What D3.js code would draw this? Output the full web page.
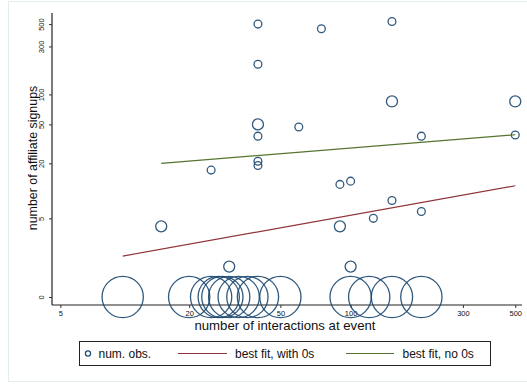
<!DOCTYPE html>
<html>
<head>
<meta charset="utf-8">
<script src="https://cdn.jsdelivr.net/npm/d3@7"></script>
<style>
  body { margin: 0; background: #fff; }
  svg text { font-family: "Liberation Sans", Arial, sans-serif; fill: #111; }
</style>
</head>
<body>
<div id="vis"></div>
<script>
// observations: interactions, signups, number of obs at that point
var obsX = [40, 75, 150, 40, 150, 500, 40, 60, 40, 200, 500, 40, 40, 25, 90, 100, 150, 125, 200, 15, 90, 30, 100,
            10, 20, 25, 27, 28, 30, 33, 36, 40, 50, 100, 120, 150, 200];
var obsY = [500, 450, 530, 200, 85, 85, 50, 47, 38, 38, 39, 21, 19, 17, 12, 13, 8, 5, 6, 4, 4, 1, 1,
            0, 0, 0, 0, 0, 0, 0, 0, 0, 0, 0, 0, 0, 0];
var obsN = [1, 1, 1, 1, 2, 2, 2, 1, 1, 1, 1, 1, 1, 1, 1, 1, 1, 1, 1, 2, 2, 2, 2,
            28, 28, 28, 28, 28, 28, 28, 28, 28, 28, 28, 28, 28, 28];

// fitted lines (end points)
var fitZerosX = [10, 500];
var fitZerosY = [1.54, 11.6];
var fitNoZerosX = [15, 500];
var fitNoZerosY = [20.0, 39.3];

var xTicks = [5, 20, 50, 100, 300, 500];
var yTicks = [0, 5, 20, 50, 100, 300, 500];

var legendLabels = ["num. obs.", "best fit, with 0s", "best fit, no 0s"];

var width = 527, height = 385;
var navy = "#1a476f", maroon = "#90353b", green = "#55752f";

var svg = d3.select("#vis").append("svg")
    .attr("width", width)
    .attr("height", height);

// graph region outline
svg.append("rect")
    .attr("x", 8.5).attr("y", 1.5)
    .attr("width", 530).attr("height", 380)
    .attr("fill", "#fff")
    .attr("stroke", "#e3ecee")
    .attr("stroke-width", 1);

var x = d3.scaleSymlog().constant(1).domain([4.53, 534]).range([52, 522]);
var y = d3.scaleSymlog().constant(1).domain([-0.2, 644]).range([305, 13]);
var r = d3.scaleSqrt().domain([0, 1]).range([0, 3.9]);

// axes
var gx = svg.append("g").attr("transform", "translate(0,305)")
    .call(d3.axisBottom(x).tickValues(xTicks).tickSize(3).tickPadding(2).tickFormat(d3.format("d")));
var gy = svg.append("g").attr("transform", "translate(52,0)")
    .call(d3.axisLeft(y).tickValues(yTicks).tickSize(3).tickPadding(2).tickFormat(d3.format("d")));

[gx, gy].forEach(function (g) {
  g.select(".domain").attr("stroke", "#222").attr("stroke-width", 1.2);
  g.selectAll(".tick line").attr("stroke", "#333");
  g.selectAll(".tick text").attr("font-size", 7.5).attr("fill", "#222")
      .attr("font-family", "Liberation Sans, Arial, sans-serif");
});
gx.select(".domain").attr("d", "M52,0H522");
gy.select(".domain").attr("d", "M0,13V305");

gx.selectAll(".tick text").attr("y", 6);
gy.selectAll(".tick text")
    .attr("x", null).attr("dy", null)
    .attr("text-anchor", "middle")
    .attr("transform", "translate(-8,0) rotate(-90)");

// axis titles
svg.append("text")
    .attr("x", 285).attr("y", 329.5)
    .attr("text-anchor", "middle")
    .attr("font-size", 13.2)
    .text("number of interactions at event");

svg.append("text")
    .attr("transform", "translate(37,158) rotate(-90)")
    .attr("text-anchor", "middle")
    .attr("font-size", 12.4)
    .text("number of affiliate signups");

// markers
var obs = obsX.map(function (d, i) { return { x: d, y: obsY[i], n: obsN[i] }; });

svg.append("g").selectAll("circle")
    .data(obs)
    .enter().append("circle")
    .attr("cx", function (d) { return x(d.x); })
    .attr("cy", function (d) { return y(d.y); })
    .attr("r", function (d) { return r(d.n); })
    .attr("fill", "none")
    .attr("stroke", navy)
    .attr("stroke-opacity", 0.9)
    .attr("stroke-width", 1.3);

// fit lines
var line = d3.line()
    .x(function (d) { return x(d[0]); })
    .y(function (d) { return y(d[1]); });

svg.append("path")
    .attr("d", line(d3.zip(fitZerosX, fitZerosY)))
    .attr("fill", "none").attr("stroke", maroon).attr("stroke-width", 1.2);

svg.append("path")
    .attr("d", line(d3.zip(fitNoZerosX, fitNoZerosY)))
    .attr("fill", "none").attr("stroke", green).attr("stroke-width", 1.2);

// legend
var lg = svg.append("g");
lg.append("rect")
    .attr("x", 79.5).attr("y", 341.5)
    .attr("width", 411).attr("height", 24)
    .attr("fill", "#fff").attr("stroke", "#222").attr("stroke-width", 1);

lg.append("circle")
    .attr("cx", 88).attr("cy", 353.5).attr("r", 2.6)
    .attr("fill", "none").attr("stroke", navy).attr("stroke-width", 1.2);
lg.append("line")
    .attr("x1", 178).attr("x2", 227).attr("y1", 353.5).attr("y2", 353.5)
    .attr("stroke", maroon).attr("stroke-width", 1.2);
lg.append("line")
    .attr("x1", 346).attr("x2", 394).attr("y1", 353.5).attr("y2", 353.5)
    .attr("stroke", green).attr("stroke-width", 1.2);

var legendX = [98.5, 235, 402.5];
lg.selectAll("text.lbl")
    .data(legendLabels)
    .enter().append("text")
    .attr("class", "lbl")
    .attr("x", function (d, i) { return legendX[i]; })
    .attr("y", 357.5)
    .attr("font-size", 12)
    .text(function (d) { return d; });
</script>
</body>
</html>
